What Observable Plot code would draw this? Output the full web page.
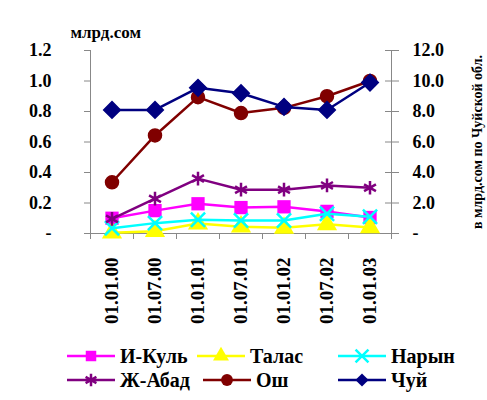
<!DOCTYPE html>
<html>
<head>
<meta charset="utf-8">
<script src="https://cdn.jsdelivr.net/npm/d3@7"></script>
<script src="https://cdn.jsdelivr.net/npm/@observablehq/plot@0.6"></script>
<style>
  html, body { margin: 0; padding: 0; background: #fff; }
  #chart { width: 487px; }
  .legend { position: relative; width: 487px; height: 65px; font-family: "Liberation Serif", "Times New Roman", serif; font-weight: bold; font-size: 20px; color: #000; }
  .item { position: absolute; display: flex; align-items: center; height: 24px; }
  .item svg { margin-right: 5px; }
</style>
</head>
<body>
<div id="chart"></div>
<script>
const dates = ["01.01.00","01.07.00","01.01.01","01.07.01","01.01.02","01.07.02","01.01.03"];
const seriesNames = ["И-Куль","Талас","Нарын","Ж-Абад","Ош","Чуй"];
const ikul  = [0.10, 0.15, 0.195, 0.17, 0.175, 0.145, 0.105];
const talas = [0.005, 0.015, 0.065, 0.045, 0.037, 0.06, 0.04];
const naryn = [0.035, 0.068, 0.09, 0.085, 0.085, 0.13, 0.11];
const jabad = [0.096, 0.228, 0.36, 0.287, 0.287, 0.315, 0.30];
const osh   = [0.336, 0.643, 0.894, 0.79, 0.824, 0.90, 1.0];
const chui  = [8.1, 8.1, 9.55, 9.2, 8.3, 8.1, 9.9]; // right axis, млрд.сом
const leftTicks = [0, 0.2, 0.4, 0.6, 0.8, 1.0, 1.2];
const leftTitle = "млрд.сом";
const rightTitle = "в млрд.сом по Чуйской обл.";

const colors = {"И-Куль":"#ff00ff","Талас":"#ffff00","Нарын":"#00ffff","Ж-Абад":"#800080","Ош":"#800000","Чуй":"#000080"};
const symbols = {"И-Куль":"square","Талас":"triangle","Нарын":"times","Ж-Абад":"asterisk","Ош":"circle","Чуй":"diamond2"};
const stroked = {"Нарын":true,"Ж-Абад":true};

const values = {"И-Куль":ikul,"Талас":talas,"Нарын":naryn,"Ж-Абад":jabad,"Ош":osh,"Чуй":chui.map(v => v / 10)};
const rows = seriesNames.flatMap(name => values[name].map((v, i) => ({name, x: i + 0.5, y: v})));

const blank = () => "";
const marks = [
  Plot.ruleX([0], {stroke: "#888", strokeWidth: 1}),
  Plot.ruleX([dates.length], {stroke: "#888", strokeWidth: 1}),
  Plot.ruleY([0], {stroke: "#888", strokeWidth: 1}),
  // left axis: tick marks, then labels
  Plot.axisY({anchor: "left", ticks: leftTicks, tickFormat: blank, tickSize: 6, stroke: "#888", label: null}),
  Plot.axisY({anchor: "left", ticks: leftTicks, tickFormat: d => d === 0 ? "-" : d.toFixed(1), tickSize: 0, tickPadding: 3, dx: -36, label: null}),
  Plot.text([leftTitle], {frameAnchor: "top-left", dx: -20, dy: -13, textAnchor: "start", lineAnchor: "bottom", fontSize: 17}),
  // right axis: crossing tick marks, then labels, then title
  Plot.axisY({anchor: "right", ticks: leftTicks, tickFormat: blank, tickSize: 7, stroke: "#888", label: null}),
  Plot.axisY({anchor: "right", ticks: leftTicks, tickFormat: blank, tickSize: -7, stroke: "#888", label: null}),
  Plot.axisY({anchor: "right", ticks: leftTicks, tickFormat: d => d === 0 ? "-" : (d * 10).toFixed(1), tickSize: 0, tickPadding: 3, dx: 18, label: null}),
  Plot.axisY({anchor: "right", ticks: [], label: rightTitle, labelAnchor: "center", labelArrow: "none", labelOffset: 90, fontSize: 14}),
  // bottom axis: boundary ticks, then rotated labels
  Plot.axisX({ticks: d3.range(dates.length + 1), tickFormat: blank, tickSize: 6, stroke: "#888", label: null}),
  Plot.axisX({ticks: dates.map((d, i) => i + 0.5), tickFormat: v => dates[Math.floor(v)], tickSize: 0, tickPadding: 24, tickRotate: -90, fontSize: 19, label: null})
];
for (const name of seriesNames) {
  const data = rows.filter(d => d.name === name);
  marks.push(Plot.line(data, {x: "x", y: "y", stroke: colors[name], strokeWidth: 2.5}));
  marks.push(Plot.dot(data, stroked[name]
    ? {x: "x", y: "y", symbol: symbols[name], stroke: colors[name], strokeWidth: 2.5, r: 6.5}
    : {x: "x", y: "y", symbol: symbols[name], fill: colors[name], stroke: name === "Ош" || name === "Чуй" ? colors[name] : "none", r: name === "Ош" ? 6.5 : 7.5}));
}

const chart = Plot.plot({
  width: 487,
  height: 335,
  marginLeft: 90,
  marginRight: 96,
  marginTop: 50,
  marginBottom: 102,
  style: {fontFamily: "'Liberation Serif', 'Times New Roman', serif", fontWeight: "bold", fontSize: "18px", color: "#000", background: "#fff"},
  x: {domain: [0, dates.length]},
  y: {domain: [0, 1.2]},
  marks
});
document.getElementById("chart").appendChild(chart);

// legend
const legend = document.createElement("div");
legend.className = "legend";
const pos = [[67, 9], [197, 9], [338, 9], [67, 33], [203, 33], [338, 33]];
seriesNames.forEach((name, k) => {
  const item = document.createElement("div");
  item.className = "item";
  item.style.left = pos[k][0] + "px";
  item.style.top = pos[k][1] + "px";
  const svg = d3.create("svg").attr("width", 48).attr("height", 20);
  svg.append("line").attr("x1", 0).attr("x2", 48).attr("y1", 10).attr("y2", 10).attr("stroke", colors[name]).attr("stroke-width", 2.5);
  const symMap = {square: d3.symbolSquare, triangle: d3.symbolTriangle, times: d3.symbolTimes, asterisk: d3.symbolAsterisk, circle: d3.symbolCircle, diamond2: d3.symbolDiamond2};
  const p = svg.append("path").attr("transform", "translate(24,10)").attr("d", d3.symbol(symMap[symbols[name]], 110)());
  if (stroked[name]) p.attr("fill", "none").attr("stroke", colors[name]).attr("stroke-width", 2.5);
  else p.attr("fill", colors[name]);
  item.appendChild(svg.node());
  const t = document.createElement("span");
  t.textContent = name;
  item.appendChild(t);
  legend.appendChild(item);
});
document.body.appendChild(legend);
</script>
</body>
</html>
